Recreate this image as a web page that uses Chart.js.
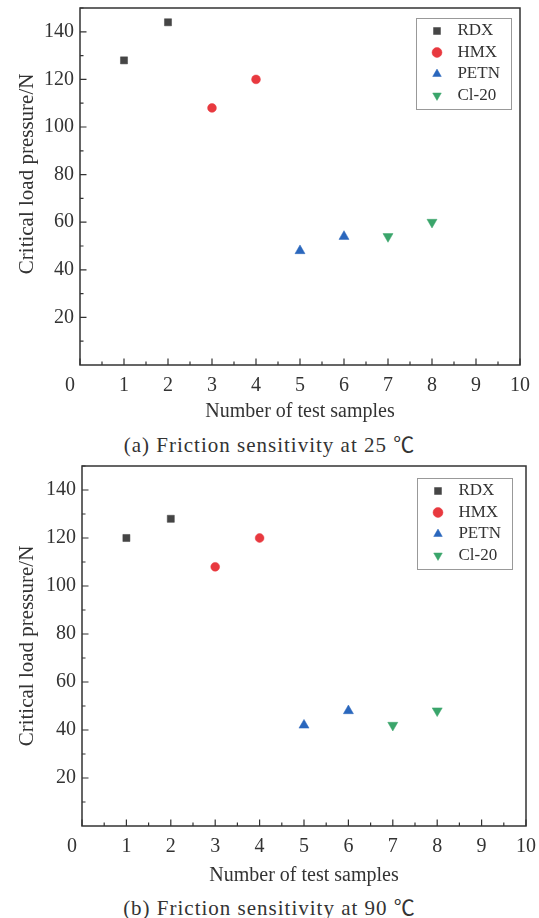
<!DOCTYPE html>
<html>
<head>
<meta charset="utf-8">
<script src="https://cdn.jsdelivr.net/npm/chart.js@4.4.1/dist/chart.umd.min.js"></script>
<style>
  body { margin: 0; background: #fff; width: 539px; height: 918px; position: relative; overflow: hidden; font-family: "Liberation Serif", serif; }
  .panel { position: absolute; left: 0; width: 539px; }
  .caption { position: absolute; left: 0; width: 539px; text-align: center; font-size: 21px; letter-spacing: 1px; color: #333;
             font-family: "Liberation Serif", "Noto Sans CJK SC", serif; }
</style>
</head>
<body>
<div class="panel" style="top:0;height:424px"><canvas id="chartA"></canvas></div>
<div class="caption" style="top:428px">(a) Friction sensitivity at 25 ℃</div>
<div class="panel" style="top:459px;height:429px"><canvas id="chartB"></canvas></div>
<div class="caption" style="top:891px">(b) Friction sensitivity at 90 ℃</div>
<script>
// data
const seriesNames = ['RDX', 'HMX', 'PETN', 'Cl-20'];
const sampleNo = [[1, 2], [3, 4], [5, 6], [7, 8]];
const load25 = [[128, 144], [108, 120], [48, 54], [54, 60]];
const load90 = [[120, 128], [108, 120], [42, 48], [42, 48]];
const xTicks = [0, 1, 2, 3, 4, 5, 6, 7, 8, 9, 10];
const yTicks = [20, 40, 60, 80, 100, 120, 140];

const colors = ['#454545', '#e8393f', '#2a67bd', '#3aa56b'];
const shapes = ['rect', 'circle', 'triangle', 'triangle'];
const rotations = [0, 0, 0, 180];
const radii = [5, 4.4, 5.8, 5.8];
const ink = '#333';
const serif = '"Liberation Serif", "Times New Roman", serif';

// box around plot area, inward ticks, legend frame
const frameTicks = {
  id: 'frameTicks',
  afterLayout(chart) {
    const lg = chart.legend, a = chart.chartArea, inset = chart.options.legendInset;
    lg.left = a.right - inset.right - 95 + 8;
    lg.right = lg.left + lg.width;
    lg.top = a.top + inset.top;
  },
  afterDraw(chart) {
    const { ctx, chartArea: a, scales: { x, y } } = chart;
    ctx.save();
    ctx.strokeStyle = ink;
    ctx.lineWidth = 1.5;
    ctx.strokeRect(a.left, a.top, a.right - a.left, a.bottom - a.top);
    ctx.lineWidth = 1.2;
    ctx.beginPath();
    xTicks.forEach((v, i) => {
      const px = x.getPixelForValue(v);
      ctx.moveTo(px, a.bottom); ctx.lineTo(px, a.bottom - 6.5);
      if (i < xTicks.length - 1) {
        const mx = x.getPixelForValue(v + 0.5);
        ctx.moveTo(mx, a.bottom); ctx.lineTo(mx, a.bottom - 3.5);
      }
    });
    [0].concat(yTicks).forEach(v => {
      const py = y.getPixelForValue(v);
      if (v > 0) { ctx.moveTo(a.left, py); ctx.lineTo(a.left + 6.5, py); }
      const my = y.getPixelForValue(v + 10);
      ctx.moveTo(a.left, my); ctx.lineTo(a.left + 3.5, my);
    });
    ctx.stroke();
    // legend frame
    const lg = chart.legend;
    ctx.strokeStyle = '#999';
    ctx.lineWidth = 1;
    ctx.strokeRect(lg.left - 8 + 0.5, lg.top + 0.5, 95, 91);
    ctx.restore();
  }
};

const makeChart = (id, loads, area) => new Chart(document.getElementById(id), {
  type: 'scatter',
  data: {
    datasets: seriesNames.map((name, i) => ({
      label: name,
      data: sampleNo[i].map((s, j) => ({ x: s, y: loads[i][j] })),
      pointStyle: shapes[i],
      pointRotation: rotations[i],
      pointRadius: radii[i],
      pointHoverRadius: radii[i],
      backgroundColor: colors[i],
      borderColor: colors[i],
      pointBorderWidth: 0.5
    }))
  },
  options: {
    responsive: true,
    maintainAspectRatio: false,
    animation: false,
    legendInset: area.legend,
    layout: { padding: { left: 15, top: area.top, right: 539 - area.right, bottom: 0 } },
    plugins: {
      tooltip: { enabled: false },
      legend: {
        position: 'chartArea',
        align: 'start',
        labels: {
          usePointStyle: true,
          boxWidth: 17,
          boxHeight: 7,
          padding: 4.5,
          color: ink,
          font: { family: serif, size: 17 },
          // a little more room between marker and name
          generateLabels: chart => Chart.defaults.plugins.legend.labels.generateLabels(chart)
            .map(item => Object.assign(item, { text: '\u2009' + item.text }))
        }
      }
    },
    scales: {
      x: {
        type: 'linear',
        min: 0,
        max: 10,
        afterBuildTicks: s => { s.ticks = xTicks.map(v => ({ value: v })); },
        afterFit: s => { s.height = area.height - area.bottom; s.paddingLeft = 0; s.paddingRight = 0; },
        grid: { display: false, drawTicks: false },
        border: { display: false },
        ticks: {
          padding: 9,
          color: ink,
          maxRotation: 0,
          autoSkip: false,
          font: { family: serif, size: 20 },
          callback: v => (v === 0 ? '0\u2003' : v)
        },
        title: { display: true, text: 'Number of test samples', color: ink, padding: 0, font: { family: serif, size: 20 } }
      },
      y: {
        min: 0,
        max: 150,
        afterBuildTicks: s => { s.ticks = yTicks.map(v => ({ value: v })); },
        afterFit: s => { s.width = area.left - 15; s.paddingTop = 0; s.paddingBottom = 0; },
        grid: { display: false, drawTicks: false },
        border: { display: false },
        ticks: { padding: 6, color: ink, font: { family: serif, size: 20 } },
        title: { display: true, text: area.yTitle, color: ink, padding: 0, font: { family: serif, size: 21 } }
      }
    }
  },
  plugins: [frameTicks]
});

makeChart('chartA', load25, {
  left: 80, top: 8, right: 520, bottom: 365, height: 424,
  legend: { right: 9, top: 10 },
  yTitle: '\u2003\u2009Critical load pressure/N'
});
makeChart('chartB', load90, {
  left: 82, top: 7, right: 526, bottom: 367, height: 429,
  legend: { right: 14, top: 12 },
  yTitle: 'Critical load pressure/N'
});
</script>
</body>
</html>
